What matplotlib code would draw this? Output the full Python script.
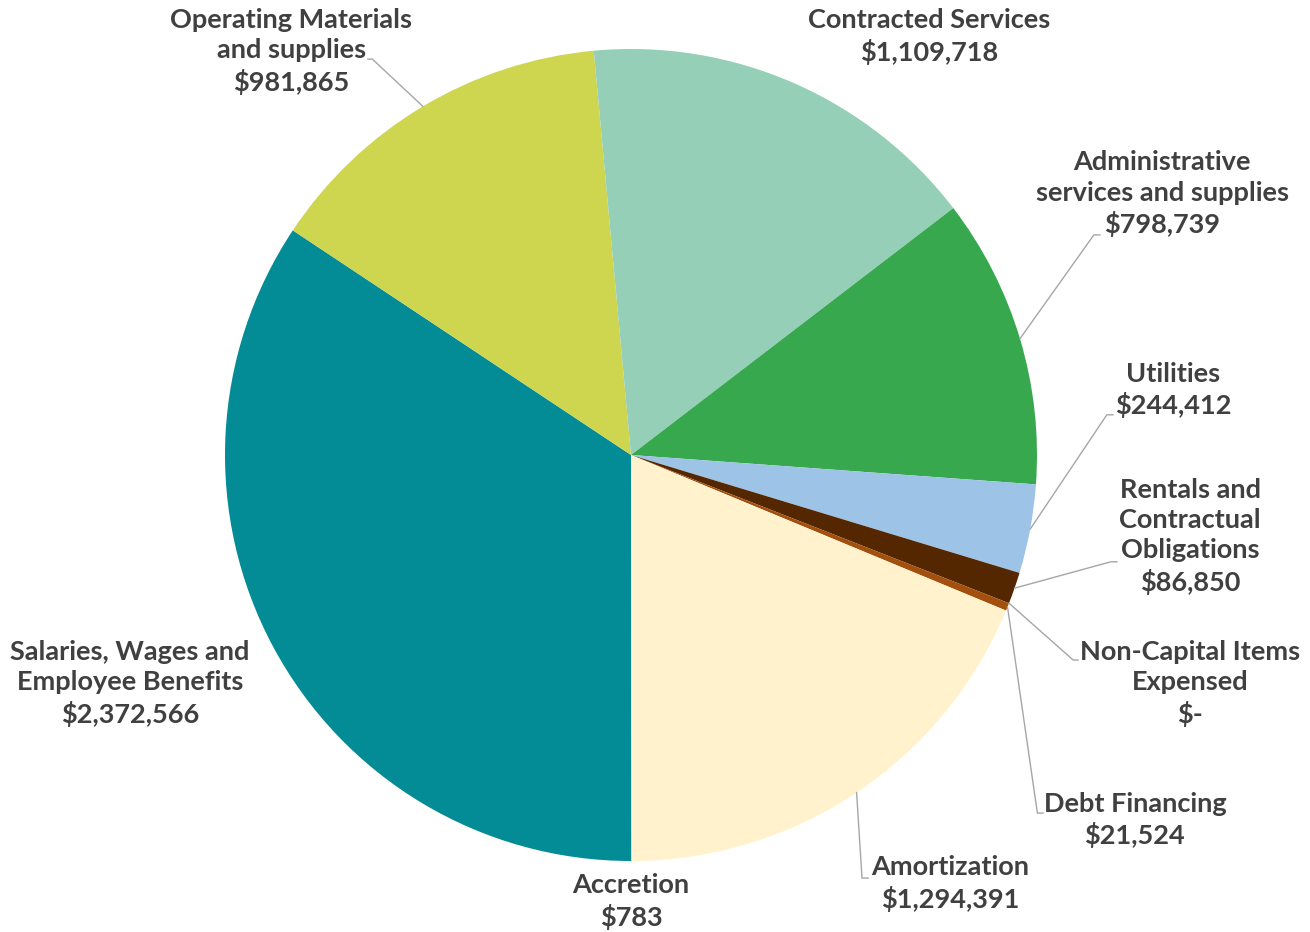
import matplotlib
matplotlib.use("Agg")
import matplotlib.pyplot as plt
import numpy as np

plt.rcParams['font.family'] = ['Lato', 'DejaVu Sans']

# expense categories, in clockwise order starting at 6 o'clock
categories = [
    "Salaries, Wages and\nEmployee Benefits",
    "Operating Materials\nand supplies",
    "Contracted Services",
    "Administrative\nservices and supplies",
    "Utilities",
    "Rentals and\nContractual\nObligations",
    "Non-Capital Items\nExpensed",
    "Debt Financing",
    "Amortization",
    "Accretion",
]
amounts = [2372566, 981865, 1109718, 798739, 244412, 86850, 0, 21524, 1294391, 783]
colors = ["#038B96", "#CED64F", "#95CFB7", "#38A84F", "#9DC3E6",
          "#552700", "#7F7F7F", "#A3500F", "#FFF2CC", "#5B9BD5"]

# label block centres (data units, pie radius = 1)
label_pos = {
    0: (-1.234, -0.562),
    1: (-0.837, 0.995),
    2: (0.734, 1.030),
    3: (1.308, 0.643),
    4: (1.335, 0.160),
    5: (1.377, -0.201),
    6: (1.377, -0.562),
    7: (1.241, -0.899),
    8: (0.786, -1.055),
    9: (0.000, -1.100),
}
# leader lines: (elbow point, end at label)
leaders = {
    1: ((-0.637, 0.975), (-0.648, 0.975)),
    3: ((1.140, 0.542), (1.155, 0.542)),
    4: ((1.172, 0.099), (1.187, 0.099)),
    5: ((1.182, -0.263), (1.197, -0.263)),
    6: ((1.089, -0.505), (1.101, -0.505)),
    7: ((1.001, -0.882), (1.015, -0.882)),
    8: ((0.569, -1.042), (0.584, -1.042)),
}


def money(v):
    return "$-" if v == 0 else f"${v:,.0f}"


fig = plt.figure(figsize=(13.1, 9.32), dpi=100)
ax = fig.add_axes([0, 0, 1, 1])

wedges, _ = ax.pie(amounts, colors=colors, startangle=270, counterclock=False,
                   radius=1.0, wedgeprops=dict(linewidth=0))

ax.set_aspect('auto')
ax.set_xlim(-631 / 406, (1310 - 631) / 406)
ax.set_ylim(-(932 - 455) / 406, 455 / 406)
ax.axis('off')

for i, (name, val) in enumerate(zip(categories, amounts)):
    x, y = label_pos[i]
    ax.text(x, y, f"{name}\n{money(val)}", ha='center', va='center',
            fontsize=19.5, fontweight='bold', color='#404040', linespacing=1.31)
    if i in leaders:
        w = wedges[i]
        mid = np.deg2rad((w.theta1 + w.theta2) / 2)
        ax_, ay_ = np.cos(mid), np.sin(mid)
        (ex, ey), (lx, ly) = leaders[i]
        ax.plot([ax_, ex, lx], [ay_, ey, ly], color='#A6A6A6', lw=1.0,
                solid_joinstyle='miter')

fig.savefig("out.png", dpi=100)
